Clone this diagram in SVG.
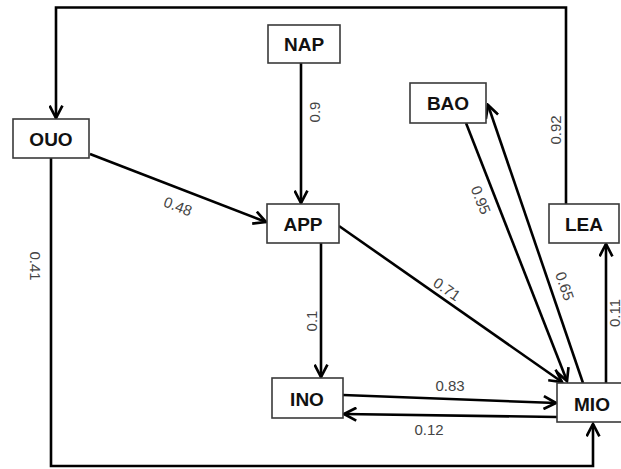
<svg xmlns="http://www.w3.org/2000/svg" width="621" height="469" viewBox="0 0 621 469">
<style>
.n rect{fill:#fff;stroke:#3a3a3a;stroke-width:1.6}
.n text{font-family:"Liberation Sans",Arial,sans-serif;font-weight:bold;font-size:19px;fill:#111;text-anchor:middle}
.e path{fill:none;stroke:#000;stroke-width:2.6}
.e .a{marker-end:url(#arr)}
.l{font-family:"Liberation Sans",Arial,sans-serif;font-size:15px;fill:#444;text-anchor:middle;dominant-baseline:central}
</style>
<defs>
<marker id="arr" viewBox="0 0 14 14" refX="12.5" refY="7" markerWidth="15" markerHeight="15" orient="auto" markerUnits="userSpaceOnUse">
<path d="M1,1 L12.5,7 L1,13" fill="none" stroke="#000" stroke-width="2.5"/>
</marker>
</defs>
<rect width="621" height="469" fill="#fff"/>
<g id="connectors" class="e">
<path class="a" d="M566,204 V7.5 H56 V118"/>
<path class="a" d="M301,63 V203"/>
<path class="a" d="M90,154 L266,222"/>
<path class="a" d="M321,243 V377"/>
<path class="a" d="M339,226 L562,382"/>
<path class="a" d="M466,123 L567,381"/>
<path class="a" d="M583,383 L488,105"/>
<path class="a" d="M606,383 V244"/>
<path class="a" d="M343,395 L556,403"/>
<path class="a" d="M557,417 L344,414"/>
<path class="a" d="M51,158 V466 H593 V424"/>
</g>
<g id="labels">
<text class="l" transform="translate(178,206) rotate(21)">0.48</text>
<text class="l" transform="translate(314,112) rotate(-90)">0.9</text>
<text class="l" transform="translate(35,266) rotate(90)">0.41</text>
<text class="l" transform="translate(311,321) rotate(-90)">0.1</text>
<text class="l" transform="translate(555,130) rotate(-90)">0.92</text>
<text class="l" transform="translate(481,200) rotate(68)">0.95</text>
<text class="l" transform="translate(565,286) rotate(71)">0.65</text>
<text class="l" transform="translate(447,289) rotate(35)">0.71</text>
<text class="l" transform="translate(614,313) rotate(-90)">0.11</text>
<text class="l" x="450" y="385">0.83</text>
<text class="l" x="429" y="429">0.12</text>
</g>
<g id="OUO" class="n"><rect x="13" y="119" width="76" height="39"/><text x="51" y="146">OUO</text></g>
<g id="NAP" class="n"><rect x="268" y="25" width="72" height="38"/><text x="304" y="51">NAP</text></g>
<g id="APP" class="n"><rect x="267" y="204" width="72" height="39"/><text x="303" y="231">APP</text></g>
<g id="BAO" class="n"><rect x="410" y="83" width="76" height="40"/><text x="448" y="110">BAO</text></g>
<g id="LEA" class="n"><rect x="549" y="204" width="70" height="39"/><text x="584" y="231">LEA</text></g>
<g id="INO" class="n"><rect x="272" y="378" width="71" height="40"/><text x="307" y="406">INO</text></g>
<g id="MIO" class="n"><rect x="557" y="383" width="71" height="39"/><text x="592" y="411">MIO</text></g>
</svg>
